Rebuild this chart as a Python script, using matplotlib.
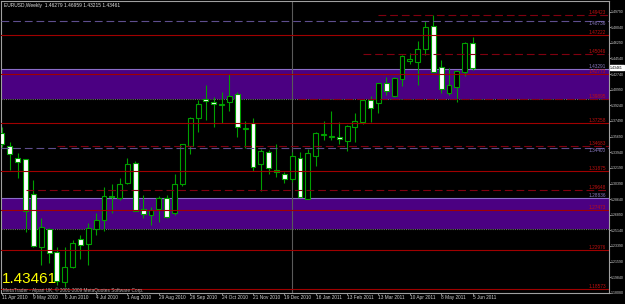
import matplotlib.pyplot as plt

plt.rcParams['font.family'] = ['Liberation Sans', 'DejaVu Sans']

# weekly EURUSD candles, 11 Apr 2010 .. 5 Jun 2011
opens = [1.3615, 1.3465, 1.3333, 1.3315, 1.2920, 1.2330, 1.2529, 1.2267, 1.1932, 1.2097,
         1.2413, 1.2363, 1.2533, 1.2627, 1.2901, 1.2882, 1.3048, 1.3277, 1.2751, 1.2687,
         1.2751, 1.2875, 1.2706, 1.3037, 1.3468, 1.3777, 1.3995, 1.3961, 1.3931, 1.3964,
         1.4048, 1.3660, 1.3721, 1.3259, 1.3401, 1.3194, 1.3153, 1.3096, 1.3333, 1.2871,
         1.3355, 1.3592, 1.3570, 1.3566, 1.3521, 1.3676, 1.3739, 1.3984, 1.3946, 1.4172,
         1.4032, 1.4224, 1.4423, 1.4409, 1.4555, 1.4821, 1.4359, 1.4066, 1.4127, 1.4303,
         1.4628]
highs = [1.3679, 1.3513, 1.3389, 1.3320, 1.3082, 1.2650, 1.2544, 1.2330, 1.2330, 1.2405,
         1.2458, 1.2593, 1.2706, 1.2999, 1.3037, 1.3101, 1.3326, 1.3292, 1.2912, 1.2781,
         1.2901, 1.2912, 1.3149, 1.3490, 1.3795, 1.3984, 1.4153, 1.4021, 1.4077, 1.4277,
         1.4070, 1.3750, 1.3777, 1.3431, 1.3420, 1.3487, 1.3175, 1.3401, 1.3401, 1.3428,
         1.3626, 1.3750, 1.3860, 1.3732, 1.3701, 1.3834, 1.3995, 1.4029, 1.4179, 1.4239,
         1.4246, 1.4491, 1.4510, 1.4649, 1.4878, 1.4942, 1.4435, 1.4341, 1.4322, 1.4641,
         1.4696]
lows = [1.3457, 1.3194, 1.3101, 1.2499, 1.2330, 1.2123, 1.2142, 1.1898, 1.1875, 1.2090,
        1.2188, 1.2123, 1.2462, 1.2503, 1.2713, 1.2856, 1.3040, 1.2730, 1.2650, 1.2574,
        1.2605, 1.2650, 1.2687, 1.3014, 1.3371, 1.3626, 1.3758, 1.3683, 1.3721, 1.3860,
        1.3563, 1.3439, 1.3186, 1.2958, 1.3149, 1.3119, 1.3044, 1.3062, 1.2887, 1.2864,
        1.3239, 1.3533, 1.3533, 1.3487, 1.3412, 1.3513, 1.3713, 1.3739, 1.3840, 1.4040,
        1.4014, 1.4141, 1.4389, 1.4153, 1.4491, 1.4295, 1.4059, 1.4040, 1.3964, 1.4254,
        1.4322]
closes = [1.3487, 1.3371, 1.3285, 1.2735, 1.2341, 1.2555, 1.2255, 1.1946, 1.2097, 1.2368,
          1.2349, 1.2544, 1.2627, 1.2905, 1.2887, 1.3040, 1.3265, 1.2735, 1.2695, 1.2747,
          1.2875, 1.2664, 1.3037, 1.3484, 1.3784, 1.3935, 1.3972, 1.3942, 1.3942, 1.4025,
          1.3679, 1.3671, 1.3232, 1.3409, 1.3214, 1.3175, 1.3096, 1.3355, 1.2893, 1.3383,
          1.3615, 1.3600, 1.3578, 1.3540, 1.3690, 1.3743, 1.3984, 1.3890, 1.4172, 1.4088,
          1.4228, 1.4480, 1.4442, 1.4555, 1.4803, 1.4303, 1.4108, 1.4149, 1.4314, 1.4630,
          1.43461]

date_labels = ["11 Apr 2010", "9 May 2010", "6 Jun 2010", "4 Jul 2010", "1 Aug 2010",
               "29 Aug 2010", "26 Sep 2010", "24 Oct 2010", "21 Nov 2010", "19 Dec 2010",
               "16 Jan 2011", "13 Feb 2011", "13 Mar 2011", "10 Apr 2011", "8 May 2011",
               "5 Jun 2011"]

price_ticks = [1.49790, 1.48040, 1.46290, 1.44540, 1.42740, 1.40990, 1.39240, 1.37490,
               1.35690, 1.33940, 1.32190, 1.30390, 1.28640, 1.26890, 1.25140, 1.23390,
               1.21590, 1.19840, 1.18080]

# horizontal levels
solid_red = [1.47222, 1.42773, 1.37258, 1.31875, 1.27473, 1.22976, 1.18573]
dashed_red = [1.49423, 1.45046, 1.39895, 1.34683, 1.29648]
dashed_red_start = [48, 46, 37.8, 7, 3]
dashed_purple = [1.48736, 1.34400]
zones = [(1.39895, 1.43291), (1.25324, 1.28836)]

green = '#00a000'
red = '#a00000'

fig = plt.figure(figsize=(6.25, 3.04), dpi=100, facecolor='black')
ax = fig.add_axes([1/625, 11/304, 608/625, 292/304])
ax.set_facecolor('black')

# zones behind candles
for lo, hi in zones:
    ax.axhspan(lo, hi, color='#4b0082', zorder=0, lw=0)
    ax.axhline(hi, color='#8a6cc8', lw=0.8, zorder=1)
    ax.axhline(lo, color='#6a6a6a', lw=0.8, ls=(0, (1, 1)), zorder=1)

# candles
n = len(opens)
for i in range(n):
    o, h, l, c = opens[i], highs[i], lows[i], closes[i]
    ax.vlines(i, l, h, color=green, lw=0.8, zorder=2)
    bottom = min(o, c)
    height = max(abs(c - o), 0.0004)
    fill = 'black' if c >= o else 'white'
    ax.bar(i, height, bottom=bottom, width=0.62, color=fill, edgecolor=green,
           linewidth=0.8, zorder=3)

# lines on top of candles
for lv in solid_red:
    ax.axhline(lv, color=red, lw=0.8, zorder=4)
    ax.text(77.0, lv, '%.5f' % lv, color='#c01010', fontsize=3.4, ha='right', va='bottom', zorder=5)
for lv, st in zip(dashed_red, dashed_red_start):
    ax.hlines(lv, st, 78, color='#800010', lw=0.8, ls=(0, (7, 3.5)), zorder=4)
    ax.text(77.0, lv, '%.5f' % lv, color='#c01010', fontsize=3.4, ha='right', va='bottom', zorder=5)
for lv in dashed_purple:
    ax.axhline(lv, color='#5e4e8e', lw=0.8, ls=(0, (7, 3.5)), zorder=4)
    ax.text(77.0, lv, '%.5f' % lv, color='#8a7ac0', fontsize=3.4, ha='right', va='top', zorder=5)
for lo, hi in zones:
    ax.text(77.0, hi, '%.5f' % hi, color='#8a7ac0', fontsize=3.4, ha='right', va='bottom', zorder=5)

ax.axvline(37, color='#5a5a5a', lw=0.8, zorder=1)

ax.set_xlim(-0.13, 77.4)
ax.set_ylim(1.18076, 1.5100)

ax.set_xticks(range(0, n, 4))
ax.set_xticklabels(date_labels, fontsize=3.4, ha='left')
ax.yaxis.tick_right()
ax.set_yticks(price_ticks)
ax.set_yticklabels(['%.5f' % p for p in price_ticks], fontsize=2.5)
ax.tick_params(axis='both', colors='#a0a0a0', length=1.2, width=0.6, pad=0.4)
ax.tick_params(axis='x', labelcolor='#d0d0d0')
ax.tick_params(axis='y', labelcolor='#d0d0d0')
for s in ax.spines.values():
    s.set_color('#a0a0a0')
    s.set_linewidth(0.8)

# current price marker
ax.annotate('%.5f' % closes[-1], xy=(1.002, closes[-1]), xycoords=('axes fraction', 'data'),
            fontsize=2.5, color='black', va='center', ha='left',
            bbox=dict(boxstyle='square,pad=0.15', fc='white', ec='white'), annotation_clip=False)

fig.text(4/625, 1 - 6/304, 'EURUSD,Weekly  1.46279 1.46959 1.43215 1.43461',
         fontsize=3.5, color='#e0e0e0', va='center')
fig.text(2/625, (304 - 283)/304, '%.5f' % closes[-1], fontsize=11, color='yellow',
         va='baseline')
fig.text(3/625, (304 - 292)/304, 'MetaTrader - Alpari UK, \u00a9 2001-2009 MetaQuotes Software Corp.',
         fontsize=3.4, color='#b0b0b0', va='baseline')

plt.savefig('out.png', dpi=100, facecolor='black')
